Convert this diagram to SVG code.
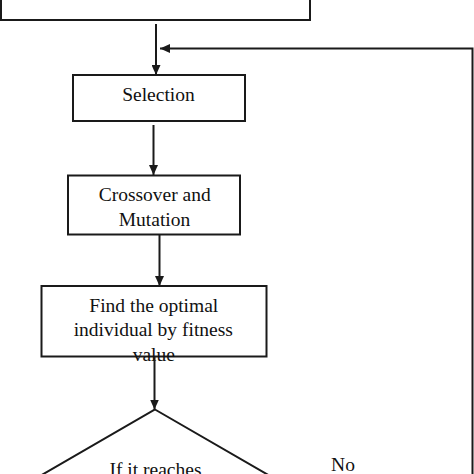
<svg xmlns="http://www.w3.org/2000/svg" width="474" height="474" viewBox="0 0 474 474">
<style>
.box{fill:#fff;stroke:#1a1a1a;stroke-width:2}
.con{fill:none;stroke:#1a1a1a;stroke-width:2}
.t{font-family:"Liberation Serif","Times New Roman",serif;font-size:19.5px;fill:#111;text-anchor:middle}
</style>
<defs>
<marker id="ah" markerUnits="userSpaceOnUse" markerWidth="10" markerHeight="9" refX="10" refY="4.5" orient="auto">
<path d="M0,0 L10,4.5 L0,9 z" fill="#1a1a1a"/>
</marker>
</defs>
<rect width="474" height="474" fill="#fff"/>
<g id="start"><rect class="box" x="1" y="-40" width="309" height="60"/></g>
<g id="selection"><rect class="box" x="73" y="75" width="172" height="46"/><text class="t" x="158.5" y="101">Selection</text></g>
<g id="crossover"><rect class="box" x="68" y="175.5" width="172" height="59"/><text class="t" x="154.7" y="201">Crossover and</text><text class="t" x="154.5" y="225.7">Mutation</text></g>
<g id="find"><rect class="box" x="41.5" y="286" width="225" height="70.5"/><text class="t" x="153.8" y="311.7">Find the optimal</text><text class="t" x="153.3" y="336">individual by fitness</text><text class="t" x="153.8" y="360.5">value</text></g>
<g id="decision"><polygon class="box" points="155,409.5 296,491 155,572 14,491"/><text class="t" x="155.5" y="476">If it reaches</text></g>
<g id="connectors">
<line class="con" x1="156" y1="24" x2="156" y2="75" marker-end="url(#ah)"/>
<line class="con" x1="153.5" y1="125" x2="153.5" y2="175" marker-end="url(#ah)"/>
<line class="con" x1="159.5" y1="235" x2="159.5" y2="286" marker-end="url(#ah)"/>
<line class="con" x1="154.5" y1="357" x2="154.5" y2="409.5" marker-end="url(#ah)"/>
<polyline class="con" points="472.5,480 472.5,48.5 160,48.5" marker-end="url(#ah)" stroke="#333"/>
<text class="t" x="343" y="471">No</text>
</g>
</svg>
